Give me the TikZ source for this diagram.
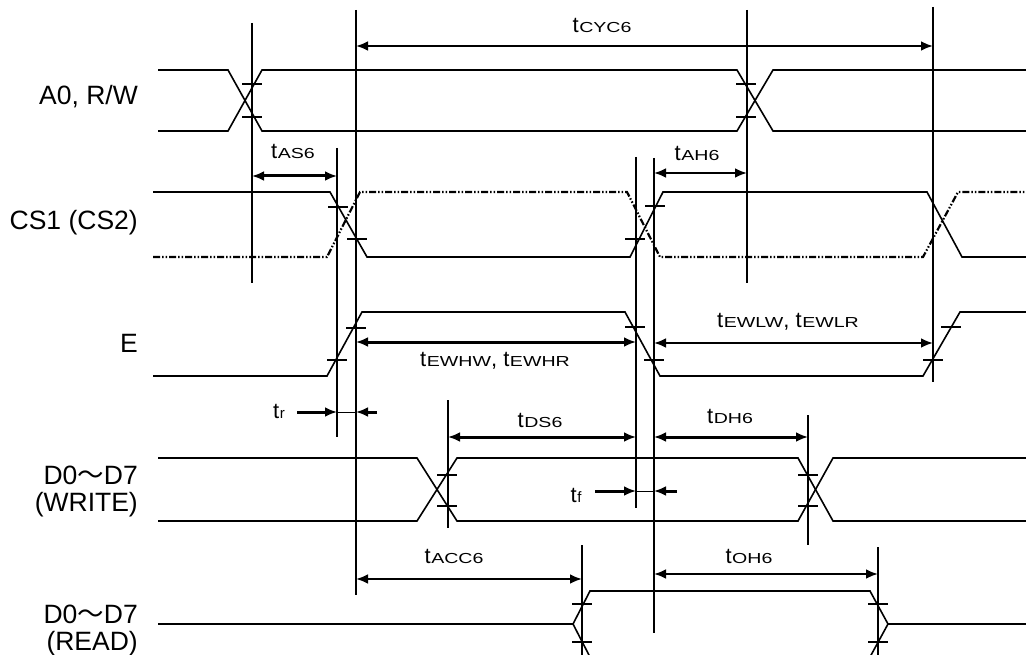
\documentclass[tikz,border=0pt]{standalone}
\usepackage{fontspec}
\setmainfont{Liberation Sans}
\newfontfamily\subf[FakeStretch=1.35]{Liberation Sans}
\newfontfamily\cjkf{Noto Sans CJK JP}
\usetikzlibrary{arrows.meta}
\newcommand\tsym[1]{{\fontsize{22}{22}\selectfont t}\kern0.6pt{\subf\fontsize{14.5}{14.5}\selectfont #1}}
\newcommand\dzd{D0{\cjkf ～}D7}
\tikzset{
  sig/.style={line width=1.6pt},
  dotsig/.style={line width=2.2pt, dash pattern=on 7pt off 2pt on 1.5pt off 2pt on 1.5pt off 2pt},
  refl/.style={line width=1.6pt},
  tk/.style={line width=1.1pt},
  dim/.style={line width=3pt, {Latex[length=12pt,width=10pt]}-{Latex[length=12pt,width=10pt]}},
  dimr/.style={line width=3pt, -{Latex[length=12pt,width=10pt]}},
  thin/.style={line width=0.9pt},
  lab/.style={inner sep=0pt, anchor=east, align=right, font=\fontsize{26.5}{27}\selectfont},
  tlab/.style={inner sep=0pt, anchor=base},
}
\begin{document}
\begin{tikzpicture}[x=1pt,y=-1pt]
\useasboundingbox (0,0) rectangle (1026,655);
\clip (0,0) rectangle (1026,655);
% signal labels
\node[lab] (lA0) at (138,97) {A0, R/W};
\node[lab] (lCS) at (138,223) {CS1 (CS2)};
\node[lab] (lE)  at (138,343) {E};
\node[lab] (lDW) at (138,491) {\dzd\\(WRITE)};
\node[lab] (lDR) at (138,630) {\dzd\\(READ)};
% reference verticals
\coordinate (V1) at (252,23);  \draw[refl] (V1) -- (252,283);
\coordinate (V2) at (356,10);  \draw[refl] (V2) -- (356,595);
\coordinate (V3) at (747,10);  \draw[refl] (V3) -- (747,283);
\coordinate (V4) at (933,7);   \draw[refl] (V4) -- (933,382);
\coordinate (V5) at (337,148); \draw[refl] (V5) -- (337,437);
\coordinate (V6) at (636,157); \draw[refl] (V6) -- (636,508);
\coordinate (V7) at (654,158); \draw[refl] (V7) -- (654,633);
\coordinate (V8) at (448,400); \draw[refl] (V8) -- (448,528);
\coordinate (V9) at (808,415); \draw[refl] (V9) -- (808,545);
\coordinate (V10) at (582,545); \draw[refl] (V10) -- (582,660);
\coordinate (V11) at (878,547); \draw[refl] (V11) -- (878,660);
% A0, R/W
\draw[sig] (158,70) -- (228,70) -- (262,131) -- (737,131) -- (773,70) -- (1026,70);
\draw[sig] (158,131) -- (228,131) -- (262,70) -- (737,70) -- (773,131) -- (1026,131);
% CS1
\draw[sig] (153,192) -- (330,192) -- (367,257) -- (630,257) -- (663,192) -- (927,192) -- (962,257) -- (1026,257);
\draw[dotsig] (153,257) -- (327,257) -- (360,192) -- (627,192) -- (660,257) -- (923,257) -- (958,192) -- (1026,192);
% E
\draw[sig] (153,376) -- (327,376) -- (362,312) -- (625,312) -- (660,376) -- (923,376) -- (960,312) -- (1026,312);
% D write
\draw[sig] (158,458) -- (417,458) -- (457,521) -- (798,521) -- (833,458) -- (1026,458);
\draw[sig] (158,521) -- (417,521) -- (457,458) -- (798,458) -- (833,521) -- (1026,521);
% D read
\draw[sig] (158,624) -- (573,624) -- (590,591) -- (870,591) -- (888,624) -- (1026,624);
\draw[sig] (573,624) -- (590,657) -- (870,657) -- (888,624);
% ticks
\foreach \x/\y in {252/84,252/117,746/84,746/117,
  338/207,357/239,635/239,655/206,
  337/360,356/328,635/327,654/360,933/360,951/327,
  447/475,447/506,808/475,808/506,
  582/604,582/642,878/604,878/642}
  \draw[tk] (\x-10,\y) -- (\x+10,\y);
% dimension arrows
\draw[dim, line width=2.5pt] (V2 |- 0,46) -- (V4 |- 0,46);
\node[tlab] (tcyc) at (602,33) {\tsym{CYC6}};
\draw[dim] (V1 |- 0,176) -- (V5 |- 0,176);
\node[tlab] (tas) at (293,159) {\tsym{AS6}};
\draw[dim, line width=2.5pt] (V7 |- 0,173) -- (V3 |- 0,173);
\node[tlab] (tah) at (697,161) {\tsym{AH6}};
\draw[dim] (V2 |- 0,342) -- (V6 |- 0,342);
\node[tlab] (tewh) at (495,366) {\tsym{EWHW}{\fontsize{22}{22}\selectfont, t}\kern0.6pt{\subf\fontsize{14.5}{14.5}\selectfont EWHR}};
\draw[dim, line width=2.5pt] (V7 |- 0,343) -- (V4 |- 0,343);
\node[tlab] (tewl) at (788,327) {\tsym{EWLW}{\fontsize{22}{22}\selectfont, t}\kern0.6pt{\subf\fontsize{14.5}{14.5}\selectfont EWLR}};
% tr
\coordinate (trL) at (297,412); \coordinate (trR) at (377,412);
\draw[dimr] (trL) -- (V5 |- 0,412);
\draw[dimr] (trR) -- (V2 |- 0,412);
\draw[thin] (V5 |- 0,412) -- (V2 |- 0,412);
\node[tlab] (tr) at (279,418) {{\fontsize{22}{22}\selectfont t}\kern0.6pt{\fontsize{15}{15}\selectfont r}};
% tDS6, tDH6
\draw[dim] (V8 |- 0,437) -- (V6 |- 0,437);
\node[tlab] (tds) at (540,427) {\tsym{DS6}};
\draw[dim] (V7 |- 0,437) -- (V9 |- 0,437);
\node[tlab] (tdh) at (730,423) {\tsym{DH6}};
% tf
\coordinate (tfL) at (595,491); \coordinate (tfR) at (677,491);
\draw[dimr] (tfL) -- (V6 |- 0,491);
\draw[dimr] (tfR) -- (V7 |- 0,491);
\draw[thin] (V6 |- 0,491) -- (V7 |- 0,491);
\node[tlab] (tf) at (576,502) {{\fontsize{22}{22}\selectfont t}\kern0.6pt{\fontsize{15}{15}\selectfont f}};
% tACC6, tOH6
\draw[dim, line width=2.5pt] (V2 |- 0,579) -- (V10 |- 0,579);
\node[tlab] (tacc) at (454,563) {\tsym{ACC6}};
\draw[dim, line width=2.5pt] (V7 |- 0,574) -- (V11 |- 0,574);
\node[tlab] (toh) at (749,563) {\tsym{OH6}};
\end{tikzpicture}
\end{document}
